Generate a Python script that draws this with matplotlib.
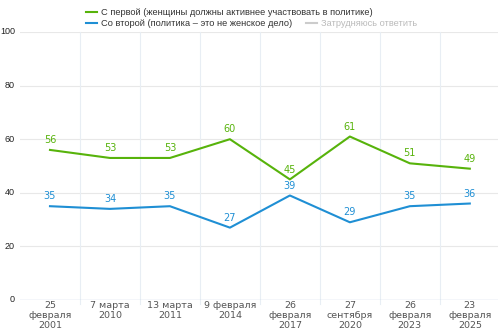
import matplotlib.pyplot as plt
import matplotlib.lines as mlines

dates = ['25\nфевраля\n2001', '7 марта\n2010', '13 марта\n2011', '9 февраля\n2014',
         '26\nфевраля\n2017', '27\nсентября\n2020', '26\nфевраля\n2023', '23\nфевраля\n2025']
first = [56, 53, 53, 60, 45, 61, 51, 49]
second = [35, 34, 35, 27, 39, 29, 35, 36]
yticks = [0, 20, 40, 60, 80, 100]

green = '#57b30b'
blue = '#1f8fd4'

fig = plt.figure(figsize=(4.98, 3.34), dpi=100)
ax = fig.add_axes([20 / 498, 1 - 300 / 334, 1 - 20 / 498, 268 / 334])

x = list(range(len(dates)))
ax.plot(x, first, color=green, lw=1.5)
ax.plot(x, second, color=blue, lw=1.5)
for xi, v in zip(x, first):
    ax.text(xi, v + 1.8, str(v), color=green, fontsize=7, ha='center', va='bottom')
for xi, v in zip(x, second):
    ax.text(xi, v + 1.8, str(v), color=blue, fontsize=7, ha='center', va='bottom')

ax.set_xlim(-0.5, 7.47)
ax.set_ylim(0, 100)
ax.set_yticks(yticks)
ax.set_yticklabels([])
ax.set_xticks(x)
ax.set_xticklabels(dates, fontsize=6.8, color='#555555', linespacing=1.15)
ax.tick_params(axis='x', length=0, pad=1)
ax.tick_params(axis='y', length=0)
# y labels sit in the narrow left margin
for yv in yticks:
    ax.text(-5 / 478, yv, str(yv), transform=ax.get_yaxis_transform(), ha='right', va='center',
            fontsize=6.5, family='Liberation Sans', color='#222222')

# grid: horizontal at ticks, vertical at category boundaries
for yv in yticks[1:]:
    ax.axhline(yv, color='#e8e8e8', lw=0.8, zorder=0)
for b in range(1, len(dates)):
    ax.plot([b - 0.5, b - 0.5], [-1.5, 100], color='#e8eef4', lw=0.8, zorder=0, clip_on=False)
ax.axhline(0, color='#c8d6e6', lw=1, zorder=1)
for s in ax.spines.values():
    s.set_visible(False)

# legend
h1 = mlines.Line2D([], [], color=green, lw=1.5, label='С первой (женщины должны активнее участвовать в политике)')
h2 = mlines.Line2D([], [], color=blue, lw=1.5, label='Со второй (политика – это не женское дело)')
h3 = mlines.Line2D([], [], color='#cccccc', lw=1.5, label='Затрудняюсь ответить')
kw = dict(frameon=False, prop={'family': 'Liberation Sans', 'size': 6.65},
          handlelength=1.15, handletextpad=0.5, borderpad=0, borderaxespad=0)
leg1 = fig.legend(handles=[h1], loc='upper left', bbox_to_anchor=(86 / 498, 1 - 8 / 334),
                  labelcolor='#333333', **kw)
leg2 = fig.legend(handles=[h2, h3], loc='upper left', bbox_to_anchor=(86 / 498, 1 - 19 / 334), ncol=2,
                  columnspacing=1.5, **kw)
leg2.get_texts()[0].set_color('#333333')
leg2.get_texts()[1].set_color('#bbbbbb')

fig.savefig('out.png', dpi=100)
